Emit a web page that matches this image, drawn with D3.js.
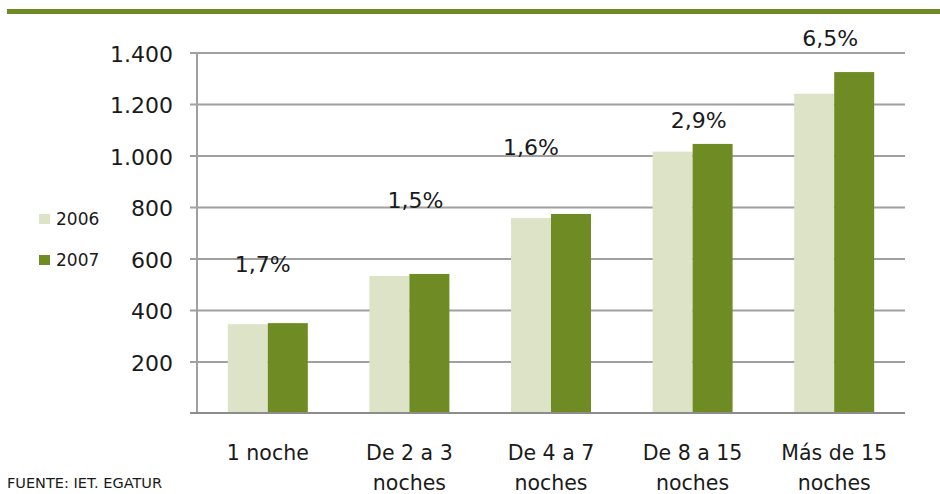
<!DOCTYPE html>
<html>
<head>
<meta charset="utf-8">
<script src="https://cdn.jsdelivr.net/npm/d3@7"></script>
<style>
  body { margin: 0; background: #fff; }
  text { font-family: "DejaVu Sans", Verdana, sans-serif; fill: #1a1a1a; }
</style>
</head>
<body>
<script>
const categories = ["1 noche", "De 2 a 3 noches", "De 4 a 7 noches", "De 8 a 15 noches", "Más de 15 noches"]
const catLines = [["1 noche"], ["De 2 a 3", "noches"], ["De 4 a 7", "noches"], ["De 8 a 15", "noches"], ["Más de 15", "noches"]]
const years = ["2006", "2007"]
const values2006 = [345, 532, 757, 1015, 1240]
const values2007 = [349, 540, 773, 1045, 1324]
const growthLabels = ["1,7%", "1,5%", "1,6%", "2,9%", "6,5%"]
const yTicks = [200, 400, 600, 800, 1000, 1200, 1400]

// layout only: label offsets (px) above the taller bar, and horizontal nudges
const labelRise = [51, 66, 59, 16, 26]
const labelShift = [-5, 6, -20, 6, -4]

const svgWidth = 940
const svgHeight = 494
const margin = { top: 52.5, right: 35, bottom: 81, left: 197 }
const chartWidth = svgWidth - margin.left - margin.right
const chartHeight = svgHeight - margin.top - margin.bottom

const colors = { "2006": "#dde3c6", "2007": "#6e8c23" }

const svg = d3.select("body").append("svg")
  .attr("width", svgWidth)
  .attr("height", svgHeight)

// green band at the top
svg.append("rect")
  .attr("x", 7).attr("y", 9)
  .attr("width", svgWidth - 7).attr("height", 5)
  .attr("fill", "#6e8c23")

const chartG = svg.append("g")
  .attr("transform", `translate(${margin.left}, ${margin.top})`)

const x = d3.scaleBand()
  .domain(categories)
  .range([0, chartWidth])

const x1 = d3.scaleBand()
  .domain(years)
  .range([0, 80])

const y = d3.scaleLinear()
  .domain([0, 1400])
  .range([chartHeight, 0])

// gridlines + left ticks
const yAxis = d3.axisLeft(y)
  .tickValues(yTicks)
  .tickSize(0)
  .tickFormat(d => d3.format(",")(d).replace(/,/g, "."))

chartG.append("g")
  .attr("transform", "translate(-7,0)")
  .call(yAxis)
  .call(g => g.select(".domain").remove())
  .call(g => g.selectAll(".tick line")
    .attr("stroke", "#a0a0a0").attr("stroke-width", 2)
    .attr("x1", 0).attr("x2", chartWidth + 7))
  .call(g => g.selectAll(".tick text")
    .attr("x", -17)
    .attr("dy", "0.4em")
    .style("font-size", "22px")
    .attr("fill", "#1a1a1a"))

// vertical axis line
chartG.append("line")
  .attr("x1", 0).attr("x2", 0)
  .attr("y1", 0).attr("y2", chartHeight)
  .attr("stroke", "#a0a0a0").attr("stroke-width", 2)

// bars
const groups = chartG.selectAll(".grp")
  .data(categories)
  .enter().append("g")
  .attr("transform", d => `translate(${x(d) + x.bandwidth() / 2 - 40}, 0)`)

groups.selectAll("rect")
  .data((d, i) => [
    { year: "2006", v: values2006[i] },
    { year: "2007", v: values2007[i] }
  ])
  .enter().append("rect")
  .attr("x", d => x1(d.year))
  .attr("y", d => y(d.v))
  .attr("width", x1.bandwidth())
  .attr("height", d => chartHeight - y(d.v))
  .attr("fill", d => colors[d.year])

// bottom axis line
chartG.append("line")
  .attr("x1", -7).attr("x2", chartWidth)
  .attr("y1", chartHeight).attr("y2", chartHeight)
  .attr("stroke", "#8c8c8c").attr("stroke-width", 2)

// growth labels
chartG.selectAll(".growth")
  .data(growthLabels)
  .enter().append("text")
  .attr("class", "growth")
  .attr("x", (d, i) => x(categories[i]) + x.bandwidth() / 2 + labelShift[i])
  .attr("y", (d, i) => y(Math.max(values2006[i], values2007[i])) - labelRise[i])
  .attr("text-anchor", "middle")
  .style("font-size", "22px")
  .text(d => d)

// category labels
const catText = chartG.selectAll(".cat")
  .data(catLines)
  .enter().append("text")
  .attr("class", "cat")
  .attr("x", (d, i) => x(categories[i]) + x.bandwidth() / 2)
  .attr("y", chartHeight + 47)
  .attr("text-anchor", "middle")
  .style("font-size", "20.5px")

catText.selectAll("tspan")
  .data(d => d)
  .enter().append("tspan")
  .attr("x", function () { return d3.select(this.parentNode).attr("x") })
  .attr("dy", (d, i) => i === 0 ? 0 : 30)
  .text(d => d)

// legend
const legend = svg.append("g")
  .attr("transform", "translate(39, 214)")

years.forEach((yr, i) => {
  const row = legend.append("g").attr("transform", `translate(0, ${i * 41})`)
  row.append("rect")
    .attr("width", 11).attr("height", 10)
    .attr("fill", colors[yr])
  row.append("text")
    .attr("x", 17).attr("y", 11)
    .style("font-size", "17px")
    .text(yr)
})

// source note
svg.append("text")
  .attr("x", 7).attr("y", 488)
  .style("font-size", "14.5px")
  .attr("fill", "#222")
  .text("FUENTE: IET. EGATUR")
</script>
</body>
</html>
